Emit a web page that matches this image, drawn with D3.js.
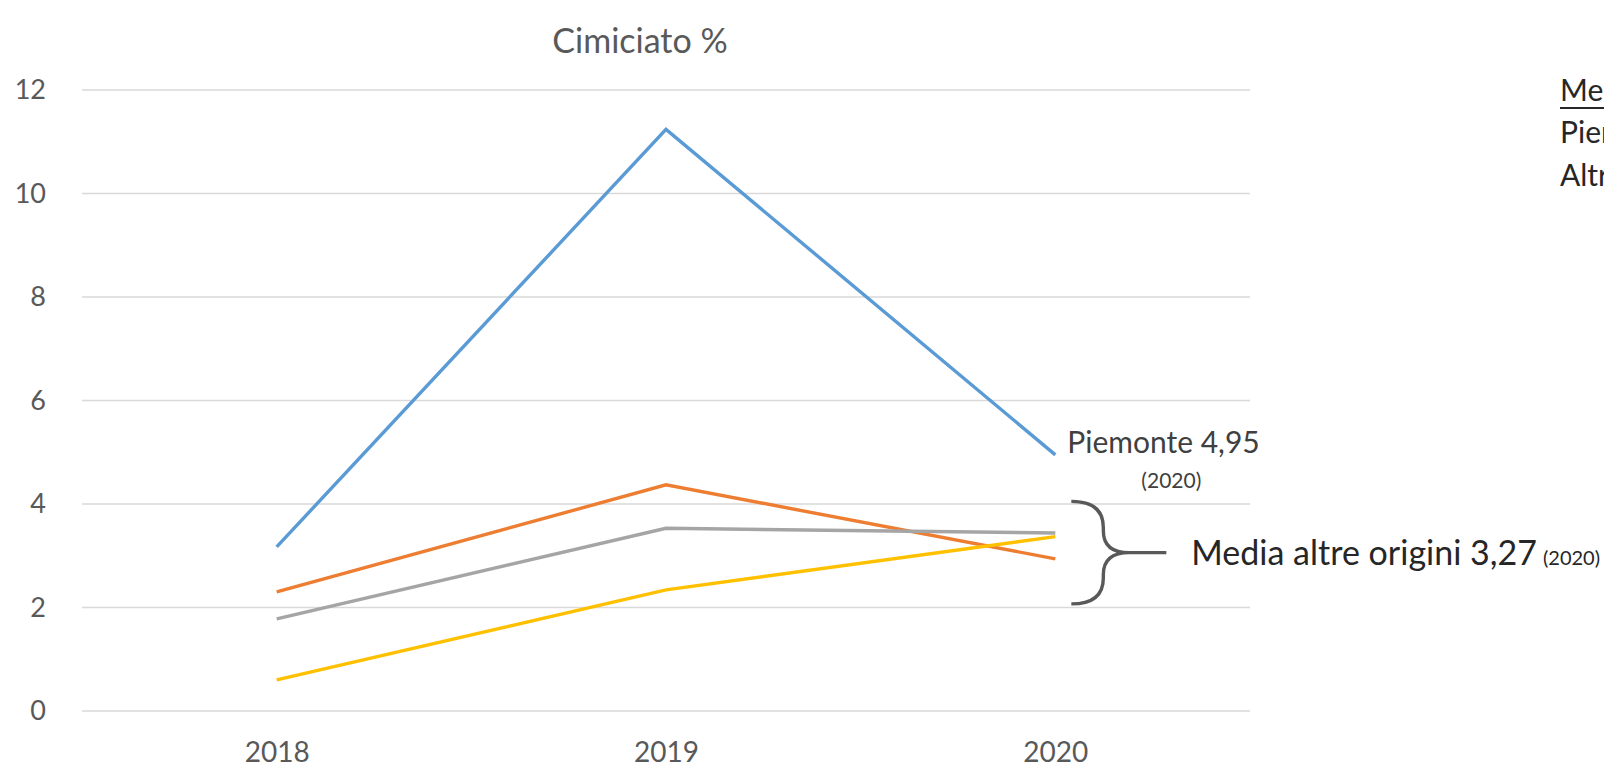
<!DOCTYPE html>
<html><head><meta charset="utf-8">
<script src="https://cdn.jsdelivr.net/npm/d3@7"></script>
<style>body{margin:0;background:#fff;} svg{display:block;font-family:Lato, "Open Sans", sans-serif;}</style>
</head><body>
<svg id="chart" width="1604" height="771"></svg>
<script>
const years = ["2018", "2019", "2020"];
const piemonte = [3.17, 11.24, 4.95];
const origineB = [2.30, 4.37, 2.94];
const origineC = [1.78, 3.53, 3.44];
const origineD = [0.60, 2.34, 3.37];
const seriesColors = ["#5B9BD5", "#ED7D31", "#A5A5A5", "#FFC000"];
const yTicks = [0, 2, 4, 6, 8, 10, 12];
const title = "Cimiciato %";

const svg = d3.select("#chart");
const x = d3.scalePoint().domain(years).range([82, 1250]).padding(0.5);
const y = d3.scaleLinear().domain([0, 12]).range([711, 90]);

// gridlines
svg.append("g").selectAll("line").data(yTicks).join("line")
  .attr("x1", 82).attr("x2", 1250)
  .attr("y1", d => y(d)).attr("y2", d => y(d))
  .attr("stroke", "#D9D9D9").attr("stroke-width", 1.3);

// y axis labels
const yAxis = d3.axisLeft(y).tickValues(yTicks).tickSize(0).tickPadding(0);
const gy = svg.append("g").attr("transform", "translate(46,0)").call(yAxis);
gy.select(".domain").remove();
gy.selectAll("text").attr("font-size", 27).attr("fill", "#595959").attr("font-family", "Lato, sans-serif");

// x axis labels
const xAxis = d3.axisBottom(x).tickSize(0).tickPadding(0);
const gx = svg.append("g").attr("transform", "translate(0,742)").call(xAxis);
gx.select(".domain").remove();
gx.selectAll("text").attr("font-size", 28).attr("fill", "#595959").attr("font-family", "Lato, sans-serif");

// lines
const allSeries = [piemonte, origineB, origineC, origineD];
const line = d3.line().x((d, i) => x(years[i])).y(d => y(d));
svg.append("g").selectAll("path").data(allSeries).join("path")
  .attr("d", line)
  .attr("fill", "none")
  .attr("stroke", (d, i) => seriesColors[i])
  .attr("stroke-width", 3.4)
  .attr("stroke-linejoin", "miter");

// title
svg.append("text").attr("x", 640).attr("y", 53).attr("text-anchor", "middle")
  .attr("font-size", 34).attr("fill", "#595959").text(title);

// Piemonte annotation
const xe = x("2020");
svg.append("text").attr("x", xe + 12).attr("y", y(4.95) - 2)
  .attr("font-size", 30).attr("fill", "#404040").text("Piemonte 4,95");
svg.append("text").attr("x", xe + 116).attr("y", y(4.95) + 33).attr("text-anchor", "middle")
  .attr("font-size", 21).attr("fill", "#404040").text("(2020)");

// brace
const x0 = xe + 16, yT = y(4.05), yB = y(2.07), yM = (yT + yB) / 2;
const p = d3.path();
p.moveTo(x0, yT);
p.quadraticCurveTo(x0 + 32, yT, x0 + 32, yT + 26);
p.lineTo(x0 + 32, yM - 22);
p.quadraticCurveTo(x0 + 32, yM, x0 + 58, yM);
p.quadraticCurveTo(x0 + 32, yM, x0 + 32, yM + 22);
p.lineTo(x0 + 32, yB - 26);
p.quadraticCurveTo(x0 + 32, yB, x0, yB);
p.moveTo(x0 + 58, yM);
p.lineTo(x0 + 95, yM);
svg.append("path").attr("d", p.toString()).attr("fill", "none")
  .attr("stroke", "#595959").attr("stroke-width", 3.4);

const media = svg.append("text").attr("x", x0 + 120).attr("y", yM + 12)
  .attr("font-size", 34).attr("fill", "#262626");
media.append("tspan").text("Media altre origini 3,27");
media.append("tspan").attr("dx", 6).attr("font-size", 20).text("(2020)");

// right side (cut at the edge, as in the reference)
const right = [["Media", 101, true], ["Piemonte", 143, false], ["Altre origini", 186, false]];
right.forEach(([t, yy, ul]) => {
  svg.append("text").attr("x", 1560).attr("y", yy)
    .attr("font-size", 30).attr("fill", "#262626").text(t);
  if (ul) svg.append("line").attr("x1", 1560).attr("x2", 1604).attr("y1", yy + 7).attr("y2", yy + 7)
    .attr("stroke", "#262626").attr("stroke-width", 2);
});
</script>
</body></html>
